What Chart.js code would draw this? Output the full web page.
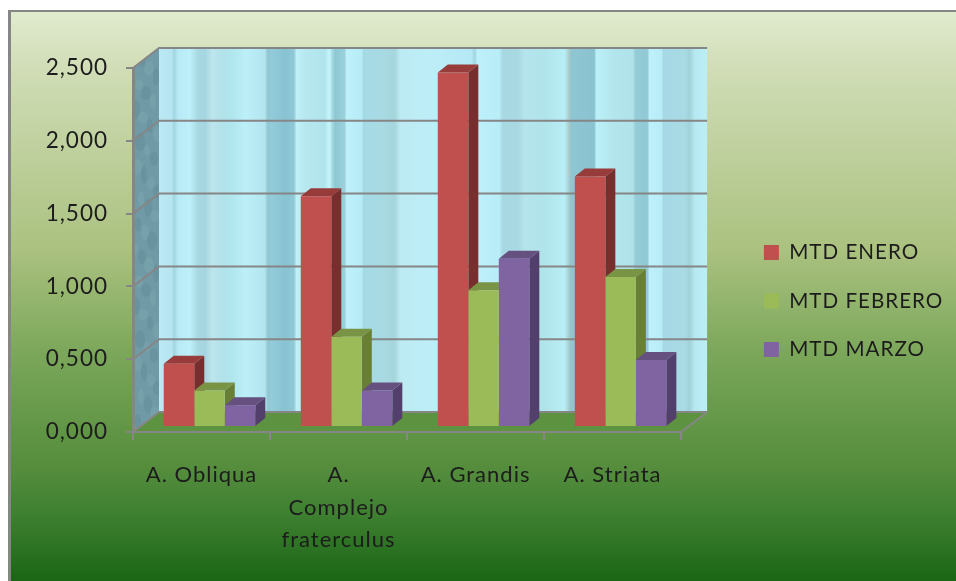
<!DOCTYPE html>
<html>
<head>
<meta charset="utf-8">
<style>html,body{margin:0;padding:0;background:#fff}canvas{display:block}</style>
<script src="https://cdn.jsdelivr.net/npm/chart.js@4"></script>
</head>
<body>
<canvas id="c" width="956" height="581"></canvas>
<script>
const categories = ["A. Obliqua", ["A.", "Complejo", "fraterculus"], "A. Grandis", "A. Striata"];
const seriesNames = ["MTD ENERO", "MTD FEBRERO", "MTD MARZO"];
const mtdEnero = [0.435, 1.585, 2.435, 1.72];
const mtdFebrero = [0.25, 0.62, 0.94, 1.03];
const mtdMarzo = [0.15, 0.25, 1.155, 0.46];

const frontColors = ["#C0504D", "#9BBB59", "#8064A2"];
const topColors = ["#973C3A", "#7A9446", "#65507F"];
const sideColors = ["#772F2D", "#6A7F36", "#533F6B"];
const lineGrey = "#868686";
const inkColor = "#1c1c1c";
const fontFamily = "Lato, 'Open Sans', sans-serif";

// look of the chart: wall depth and bar depth, in pixels
const wallDepth = {x: 26, y: 20};
const barDepth = {x: 10, y: 8};
const barShift = {x: 8, y: -5};

// wall texture: [fraction across the wall, colour]
const wallStripes = [[0,"#bbe9f5"],[.024,"#b5e5f0"],[.027,"#9fd4df"],[.035,"#b8eaf5"],[.056,"#bdf0fa"],[.071,"#a8d9e3"],[.084,"#a5d5e0"],[.097,"#bde5ec"],[.115,"#b2e2ea"],[.133,"#b0e6ee"],[.157,"#bceff8"],[.193,"#b2e5ef"],[.199,"#8fc5d0"],[.204,"#93cbd9"],[.23,"#88c3d3"],[.246,"#90c8d6"],[.251,"#c0f0f8"],[.266,"#b8e8ef"],[.302,"#b0e4ec"],[.311,"#c5f5fc"],[.317,"#a0d6e0"],[.322,"#8ec8d2"],[.339,"#9ad2dc"],[.342,"#bff0fa"],[.37,"#b5ecf6"],[.373,"#a5dae5"],[.411,"#a8dae3"],[.43,"#a5d5dc"],[.44,"#bdeaf2"],[.495,"#bdeef8"],[.57,"#b5e8f5"],[.576,"#a0d5e0"],[.581,"#bdf0fa"],[.621,"#b8ecf7"],[.627,"#a8d9e3"],[.654,"#a8d8e2"],[.667,"#b5e4ec"],[.703,"#b0e4ea"],[.74,"#b8eef6"],[.749,"#a8c8c8"],[.752,"#8ec6d4"],[.794,"#8ac2d0"],[.798,"#bcf0f8"],[.831,"#b2e5ec"],[.865,"#b0e2ea"],[.869,"#94cdd8"],[.891,"#90c8d4"],[.895,"#bdf0fb"],[.917,"#b8ecf6"],[.92,"#a6d9e6"],[.959,"#a8dbe4"],[.968,"#a2d2da"],[.977,"#b5e8f0"],[1,"#bceef8"]];

const legendPlacement = {
  id: "legendPlacement",
  afterLayout(chart) {
    const l = chart.legend;
    l.left = 736; l.right = 956;
    l.top -= 23.5; l.bottom -= 23.5;
  }
};

const pageBackdrop = {
  id: "pageBackdrop",
  beforeDraw(chart) {
    const ctx = chart.ctx, W = chart.width, H = chart.height;
    const border = 3, left = 8, top = 10;
    ctx.letterSpacing = "1px";
    ctx.save();
    ctx.fillStyle = lineGrey;
    ctx.fillRect(left, top, W - left, H - top);
    const g = ctx.createLinearGradient(0, top + 2, 0, H);
    g.addColorStop(0, "#e0ebce");
    g.addColorStop(.1, "#d0ddb6");
    g.addColorStop(.42, "#aac17f");
    g.addColorStop(.6, "#7ba75a");
    g.addColorStop(.8, "#558d3d");
    g.addColorStop(.88, "#3f8031");
    g.addColorStop(1, "#1a6615");
    ctx.fillStyle = g;
    ctx.fillRect(left + border, top + 2, W - left - border, H - top - 2);
    ctx.restore();
  }
};

const walls = {
  id: "walls",
  beforeDraw(chart) {
    const ctx = chart.ctx, a = chart.chartArea, d = wallDepth, y = chart.scales.y;
    ctx.save();
    // back wall
    const sg = ctx.createLinearGradient(a.left + d.x, 0, a.right + d.x, 0);
    wallStripes.forEach(s => sg.addColorStop(s[0], s[1]));
    ctx.fillStyle = sg;
    ctx.fillRect(a.left + d.x, a.top - d.y, a.width, a.height);
    // side wall
    ctx.save();
    ctx.beginPath();
    ctx.moveTo(a.left, a.top); ctx.lineTo(a.left + d.x, a.top - d.y);
    ctx.lineTo(a.left + d.x, a.bottom - d.y); ctx.lineTo(a.left, a.bottom);
    ctx.closePath();
    ctx.fillStyle = "#6f9aa6";
    ctx.fill();
    ctx.clip();
    for (let i = 0; i < 46; i++) {
      const px = a.left + 2 + (i * 7 % 24);
      const py = a.top - d.y + 4 + i * 8.2;
      ctx.beginPath();
      ctx.ellipse(px, py, 3 + i % 3, 6 + i % 4, 0, 0, Math.PI * 2);
      ctx.fillStyle = i % 2 ? "rgba(70,110,125,.16)" : "rgba(160,195,200,.14)";
      ctx.fill();
    }
    ctx.restore();
    // floor
    ctx.beginPath();
    ctx.moveTo(a.left, a.bottom); ctx.lineTo(a.left + d.x, a.bottom - d.y);
    ctx.lineTo(a.right + d.x, a.bottom - d.y); ctx.lineTo(a.right, a.bottom);
    ctx.closePath();
    ctx.fillStyle = "#5d9340";
    ctx.fill();
    // gridlines across side wall and back wall
    ctx.strokeStyle = lineGrey;
    ctx.lineWidth = 2;
    y.ticks.forEach(t => {
      const py = y.getPixelForValue(t.value);
      ctx.beginPath();
      ctx.moveTo(a.left, py); ctx.lineTo(a.left + d.x, py - d.y); ctx.lineTo(a.right + d.x, py - d.y);
      ctx.stroke();
    });
    ctx.beginPath();
    ctx.moveTo(a.right + d.x, a.bottom - d.y); ctx.lineTo(a.right, a.bottom);
    ctx.stroke();
    ctx.restore();
  }
};

const bars3d = {
  id: "bars3d",
  beforeDatasetsDraw(chart) {
    const ctx = chart.ctx, d = barDepth;
    ctx.save();
    ctx.translate(barShift.x, barShift.y);
    chart.data.datasets.forEach((ds, i) => {
      chart.getDatasetMeta(i).data.forEach(bar => {
        const p = bar.getProps(["x", "y", "base", "width"], true);
        const l = p.x - p.width / 2, r = p.x + p.width / 2;
        ctx.fillStyle = sideColors[i];
        ctx.beginPath();
        ctx.moveTo(r, p.y); ctx.lineTo(r + d.x, p.y - d.y);
        ctx.lineTo(r + d.x, p.base - d.y); ctx.lineTo(r, p.base);
        ctx.closePath(); ctx.fill();
        ctx.fillStyle = topColors[i];
        ctx.beginPath();
        ctx.moveTo(l, p.y); ctx.lineTo(l + d.x, p.y - d.y);
        ctx.lineTo(r + d.x, p.y - d.y); ctx.lineTo(r, p.y);
        ctx.closePath(); ctx.fill();
      });
    });
  },
  afterDatasetsDraw(chart) {
    chart.ctx.restore();
  }
};

new Chart(document.getElementById("c"), {
  type: "bar",
  data: {
    labels: categories,
    datasets: [mtdEnero, mtdFebrero, mtdMarzo].map((values, i) => ({
      label: seriesNames[i],
      data: values,
      backgroundColor: frontColors[i],
      borderWidth: 0,
      clip: false
    }))
  },
  plugins: [legendPlacement, pageBackdrop, walls, bars3d],
  options: {
    responsive: false,
    animation: false,
    devicePixelRatio: 1,
    layout: {padding: {top: 68, bottom: 0, left: 0, right: 68.6}},
    datasets: {bar: {categoryPercentage: .668, barPercentage: 1}},
    plugins: {
      tooltip: {enabled: false},
      title: {display: false},
      legend: {
        position: "right",
        labels: {boxWidth: 15, boxHeight: 15, padding: 27.9, color: inkColor,
          font: {family: fontFamily, size: 20.6, lineHeight: 1.2}}
      }
    },
    scales: {
      x: {
        afterFit(s) { s.height = 149; },
        grid: {drawOnChartArea: false, offset: true, tickLength: 8, color: lineGrey, lineWidth: 2},
        border: {color: lineGrey, width: 2},
        ticks: {autoSkip: false, maxRotation: 0, minRotation: 0, padding: 19, color: inkColor,
          font: {family: fontFamily, size: 22, lineHeight: 1.48}}
      },
      y: {
        min: 0, max: 2.5,
        afterFit(s) { s.width = 133; },
        grid: {drawOnChartArea: false, tickLength: 7, color: lineGrey, lineWidth: 2},
        border: {color: lineGrey, width: 3},
        ticks: {stepSize: .5, padding: 18, color: inkColor, font: {family: fontFamily, size: 22.5},
          callback: v => Number(v).toFixed(3).replace(".", ",")}
      }
    }
  }
});
</script>
</body>
</html>
